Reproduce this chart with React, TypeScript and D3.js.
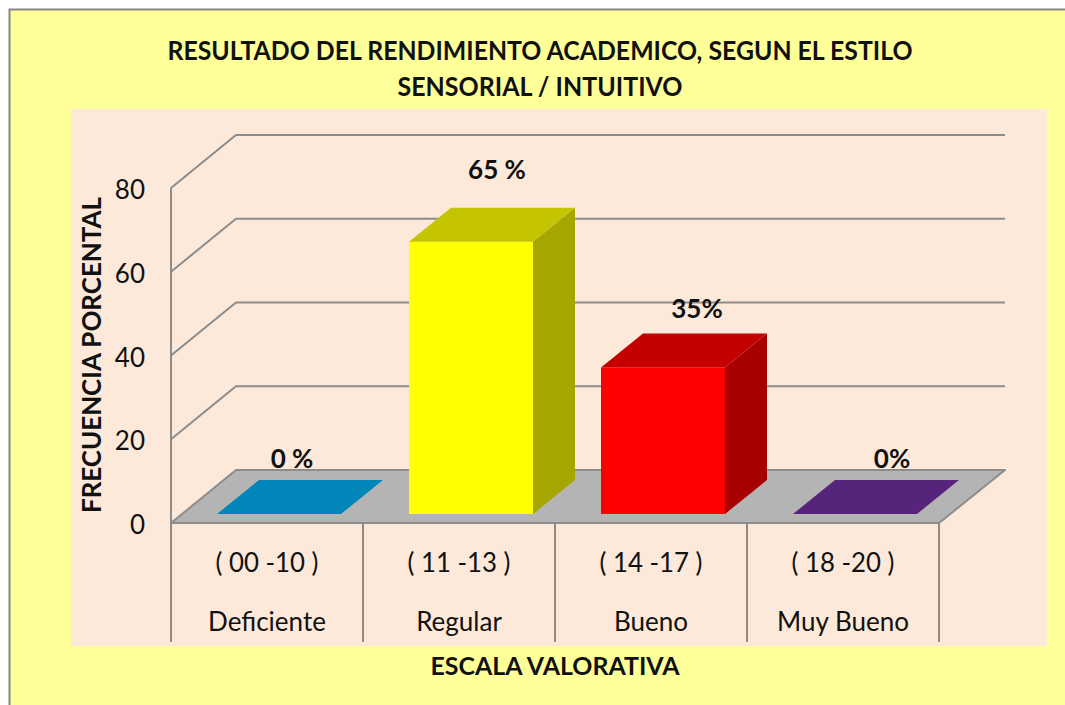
import React from "react";
import * as d3 from "d3";

const titleLines = ["RESULTADO DEL RENDIMIENTO ACADEMICO, SEGUN EL ESTILO", "SENSORIAL / INTUITIVO"];
const categories = ["Deficiente", "Regular", "Bueno", "Muy Bueno"];
const ranges = ["( 00 -10 )", "( 11 -13 )", "( 14 -17 )", "( 18 -20 )"];
const values = [0, 65, 35, 0];
const dataLabels = ["0 %", "65 %", "35%", "0%"];
const yTicks = [0, 20, 40, 60, 80];
const xTitle = "ESCALA VALORATIVA";
const yTitle = "FRECUENCIA PORCENTAL";
const fronts = ["#00BFFF", "#FFFF00", "#FF0000", "#7030A0"];
const tops = ["#0086B8", "#C4C400", "#C40000", "#56247A"];
const sides = ["#006E96", "#A6A600", "#A60000", "#451C63"];

const FONT = "Lato, 'Open Sans', sans-serif";
const GRID = "#8C8C8C";

export default function App() {
  const x = d3.scaleBand<number>().domain(d3.range(4)).range([171, 939]);
  const y = d3.scaleLinear().domain([0, 80]).range([523, 188]);
  const backDx = 65;
  const backDy = -53;
  const barW = 124;
  const barInset = 46;
  const floorDy = -9;
  const depthDx = 42;
  const depthDy = -34;
  const labelDx = [13, 26, 34, 37];
  const labelDy = [-46, -63, -49, -46];
  const poly = (p: [number, number][]) => p.map((q) => q.join(",")).join(" ");
  return (
    <svg width={1065} height={705} style={{ position: "absolute", left: 0, top: 0 }} fontFamily={FONT}>
      <rect x={0} y={0} width={1065} height={705} fill="#fff" />
      <rect x={9.5} y={9.5} width={1070} height={710} fill="#FFFF99" stroke="#868686" strokeWidth={2} />
      <rect x={71} y={109} width={976} height={537} fill="#FDE9D9" />

      {titleLines.map((t, i) => (
        <text key={t} x={540} y={60 + i * 36} textAnchor="middle" fontSize={26.5} fontWeight={700} fill="#111" textLength={i === 0 ? 745 : 285} lengthAdjust="spacingAndGlyphs">{t}</text>
      ))}

      <g fill="none" stroke={GRID} strokeWidth={2}>
        {yTicks.slice(1).map((v) => (
          <polyline key={v} points={poly([[171, y(v)], [171 + backDx, y(v) + backDy], [1005, y(v) + backDy]])} />
        ))}
        <line x1={171} x2={171} y1={y(80)} y2={642} />
        {d3.range(1, 5).map((i) => {
          const px = i < 4 ? x(i)! : 939;
          return <line key={i} x1={px} x2={px} y1={523} y2={642} />;
        })}
      </g>
      <polygon points={poly([[171, 523], [939, 523], [1005, 470], [171 + backDx, 470]])} fill="#B4B4B4" stroke={GRID} strokeWidth={2} strokeLinejoin="round" />

      {values.map((v, i) => {
        const l = x(i)! + barInset;
        const r = l + barW;
        const b = y(0) + floorDy;
        const t = b - (y(0) - y(v));
        return (
          <g key={i}>
            {v > 0 && <rect x={l} y={t} width={barW} height={b - t} fill={fronts[i]} />}
            {v > 0 && <polygon points={poly([[r, t], [r + depthDx, t + depthDy], [r + depthDx, b + depthDy], [r, b]])} fill={sides[i]} />}
            <polygon points={poly([[l, t], [r, t], [r + depthDx, t + depthDy], [l + depthDx, t + depthDy]])} fill={tops[i]} />
          </g>
        );
      })}

      {values.map((v, i) => {
        const t = y(0) + floorDy - (y(0) - y(v));
        return (
          <text key={i} x={x(i)! + barInset + barW / 2 + labelDx[i]} y={t + labelDy[i]} textAnchor="middle" fontSize={26} fontWeight={700} fill="#111">{dataLabels[i]}</text>
        );
      })}

      {yTicks.map((v) => (
        <text key={v} x={145} y={y(v) + 11} textAnchor="end" fontSize={26} fill="#111">{v}</text>
      ))}

      {categories.map((c, i) => (
        <g key={c} textAnchor="middle" fontSize={26} fill="#111">
          <text x={x(i)! + 96} y={572} textLength={103} lengthAdjust="spacingAndGlyphs">{ranges[i]}</text>
          <text x={x(i)! + 96} y={631}>{c}</text>
        </g>
      ))}

      <text x={555} y={675} textAnchor="middle" fontSize={24.5} fontWeight={700} fill="#111" textLength={249} lengthAdjust="spacingAndGlyphs">{xTitle}</text>
      <text transform="translate(101,355) rotate(-90)" textAnchor="middle" fontSize={26} fontWeight={700} fill="#111" textLength={316} lengthAdjust="spacingAndGlyphs">{yTitle}</text>
    </svg>
  );
}
